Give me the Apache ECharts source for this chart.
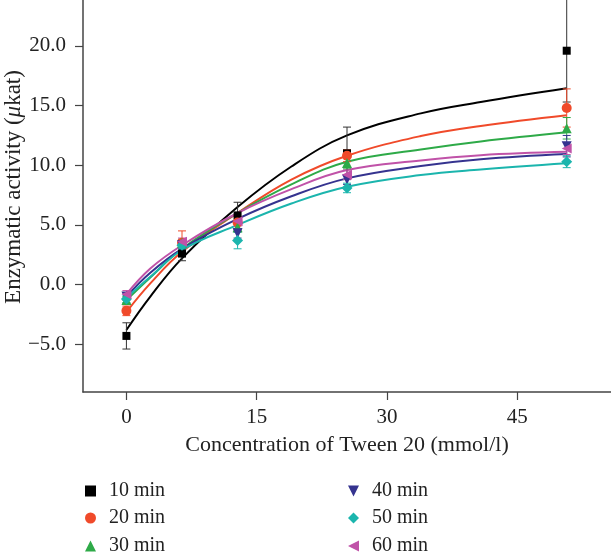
<!DOCTYPE html>
<html><head><meta charset="utf-8">
<script src="https://cdn.jsdelivr.net/npm/echarts@6/dist/echarts.min.js"></script>
<style>html,body{margin:0;padding:0;background:#fff}#c{width:611px;height:554px}</style>
</head><body><div id="c"></div>
<script>
const seriesNames = ['10 min','20 min','30 min','40 min','50 min','60 min'];
const conc = [0, 6.4, 12.8, 25.4, 50.7];
const mean10 = [-4.3, 2.6, 5.8, 11.0, 19.6];
const err10  = [1.1, 0.6, 1.1, 2.2, 4.3];
const mean20 = [-2.2, 3.5, 5.2, 10.8, 14.8];
const err20  = [0.4, 1.0, 0.5, 0.5, 1.6];
const mean30 = [-1.3, 3.5, 4.8, 10.2, 13.1];
const err30  = [0.3, 0.3, 0.4, 0.5, 0.9];
const mean40 = [-1.0, 3.3, 4.3, 8.8, 11.6];
const err40  = [0.3, 0.3, 0.4, 0.4, 0.9];
const mean50 = [-1.2, 3.3, 3.7, 8.1, 10.3];
const err50  = [0.3, 0.3, 0.7, 0.4, 0.5];
const mean60 = [-0.8, 3.6, 5.3, 9.2, 11.4];
const err60  = [0.3, 0.3, 0.4, 0.4, 0.5];
const fitX = [0, 2.75, 6.4, 12.8, 19, 25.4, 33.9, 40.8, 50.7];
const fit10 = [-3.8, -1.0, 2.2, 6.5, 9.9, 12.5, 14.35, 15.3, 16.45];
const fit20 = [-2.3, 0.1, 2.75, 6.0, 8.8, 10.8, 12.45, 13.3, 14.2];
const fit30 = [-1.3, 0.6, 3.0, 6.0, 8.4, 10.3, 11.33, 12.0, 12.76];
const fit40 = [-1.0, 1.0, 3.0, 5.5, 7.4, 8.9, 9.93, 10.5, 10.94];
const fit50 = [-1.1, 0.65, 2.9, 5.0, 6.8, 8.2, 9.18, 9.64, 10.16];
const fit60 = [-0.8, 1.35, 3.3, 6.0, 8.0, 9.6, 10.4, 10.85, 11.13];
const yTicks = [-5, 0, 5, 10, 15, 20];
const xTicks = [0, 15, 30, 45];

const means = [mean10, mean20, mean30, mean40, mean50, mean60];
const errs = [err10, err20, err30, err40, err50, err60];
const fits = [fit10, fit20, fit30, fit40, fit50, fit60];
const colors = ['#000000', '#f04a2a', '#2eaa48', '#35338f', '#1bb5ad', '#c052a8'];
const errColors = ['#333333', '#f04a2a', '#2eaa48', '#35338f', '#1bb5ad', '#c052a8'];
const symbols = ['rect', 'circle', 'triangle', 'path://M0,0 L10,0 L5,10 Z', 'diamond', 'path://M10,0 L10,10 L0,5 Z'];
const symSizes = [8, 10, 10, 10, 11, 10];
const FONT = 'Liberation Serif';

const chart = echarts.init(document.getElementById('c'), null, {renderer: 'canvas'});
const series = [];
for (let i = 0; i < 6; i++) {
  series.push({
    name: seriesNames[i] + ' fit', type: 'line', smooth: 0.4, symbol: 'none',
    data: fitX.map((x, j) => [x, fits[i][j]]),
    lineStyle: {color: colors[i], width: 2}, z: 2, silent: true
  });
}
for (let i = 0; i < 6; i++) {
  series.push({
    name: seriesNames[i] + ' err', type: 'custom', z: 3, silent: true,
    data: conc.map((x, j) => [x, means[i][j] - errs[i][j], means[i][j] + errs[i][j]]),
    renderItem: function (params, api) {
      const lo = api.coord([api.value(0), api.value(1)]);
      const hi = api.coord([api.value(0), api.value(2)]);
      const w = 4;
      const st = {stroke: errColors[i], lineWidth: 1};
      return {type: 'group', children: [
        {type: 'line', shape: {x1: lo[0], y1: lo[1], x2: hi[0], y2: hi[1]}, style: st},
        {type: 'line', shape: {x1: lo[0] - w, y1: lo[1], x2: lo[0] + w, y2: lo[1]}, style: st},
        {type: 'line', shape: {x1: hi[0] - w, y1: hi[1], x2: hi[0] + w, y2: hi[1]}, style: st}
      ]};
    }
  });
}
for (let i = 0; i < 6; i++) {
  series.push({
    name: seriesNames[i], type: 'scatter', z: 4,
    symbol: symbols[i], symbolSize: symSizes[i],
    itemStyle: {color: colors[i], opacity: 1},
    data: conc.map((x, j) => [x, means[i][j]])
  });
}
const legendLeft = [85, 85, 85, 348, 348, 348];
const legendTop = [481, 508, 536, 481, 508, 536];
const legends = seriesNames.map((n, i) => ({
  orient: 'vertical', left: legendLeft[i], top: legendTop[i], padding: 0,
  itemWidth: 11, itemHeight: 11, selectedMode: false,
  textStyle: {fontFamily: FONT, fontSize: 20, color: '#222', lineHeight: 20, padding: [0, 0, 0, 8]},
  data: [{name: n, icon: symbols[i], itemStyle: {color: colors[i]}}]
}));
chart.setOption({
  animation: false,
  grid: {left: 83, right: 0, top: 0, bottom: 162, containLabel: false, outerBoundsMode: 'none'},
  xAxis: {
    type: 'value', min: -5, max: 55.8,
    name: 'Concentration of Tween 20 (mmol/l)', nameLocation: 'middle', nameGap: 42, nameMoveOverlap: false,
    nameTextStyle: {fontFamily: FONT, fontSize: 22, color: '#222'},
    axisLine: {show: true, onZero: false, lineStyle: {color: '#444', width: 1.5}},
    axisTick: {show: true, length: 8, lineStyle: {color: '#444', width: 1.2}, customValues: xTicks},
    axisLabel: {fontFamily: FONT, fontSize: 21, color: '#222', margin: 15, customValues: xTicks},
    splitLine: {show: false}
  },
  yAxis: {
    type: 'value', min: -9, max: 23.85,
    name: 'Enzymatic activity ({i|μ}kat)', nameLocation: 'middle', nameGap: 58, nameMoveOverlap: false,
    nameTextStyle: {fontFamily: FONT, fontSize: 23, color: '#222', padding: [0, 0, 0, 18],
      rich: {i: {fontFamily: FONT, fontSize: 23, fontStyle: 'italic', color: '#222'}}},
    axisLine: {show: true, onZero: false, lineStyle: {color: '#444', width: 1.5}},
    axisTick: {show: true, length: 8, lineStyle: {color: '#444', width: 1.2}, customValues: yTicks},
    axisLabel: {fontFamily: FONT, fontSize: 21, color: '#222', margin: 17, customValues: yTicks,
      formatter: v => v.toFixed(1).replace('-', '\u2212')},
    splitLine: {show: false}
  },
  legend: legends,
  series: series
});
</script></body></html>
